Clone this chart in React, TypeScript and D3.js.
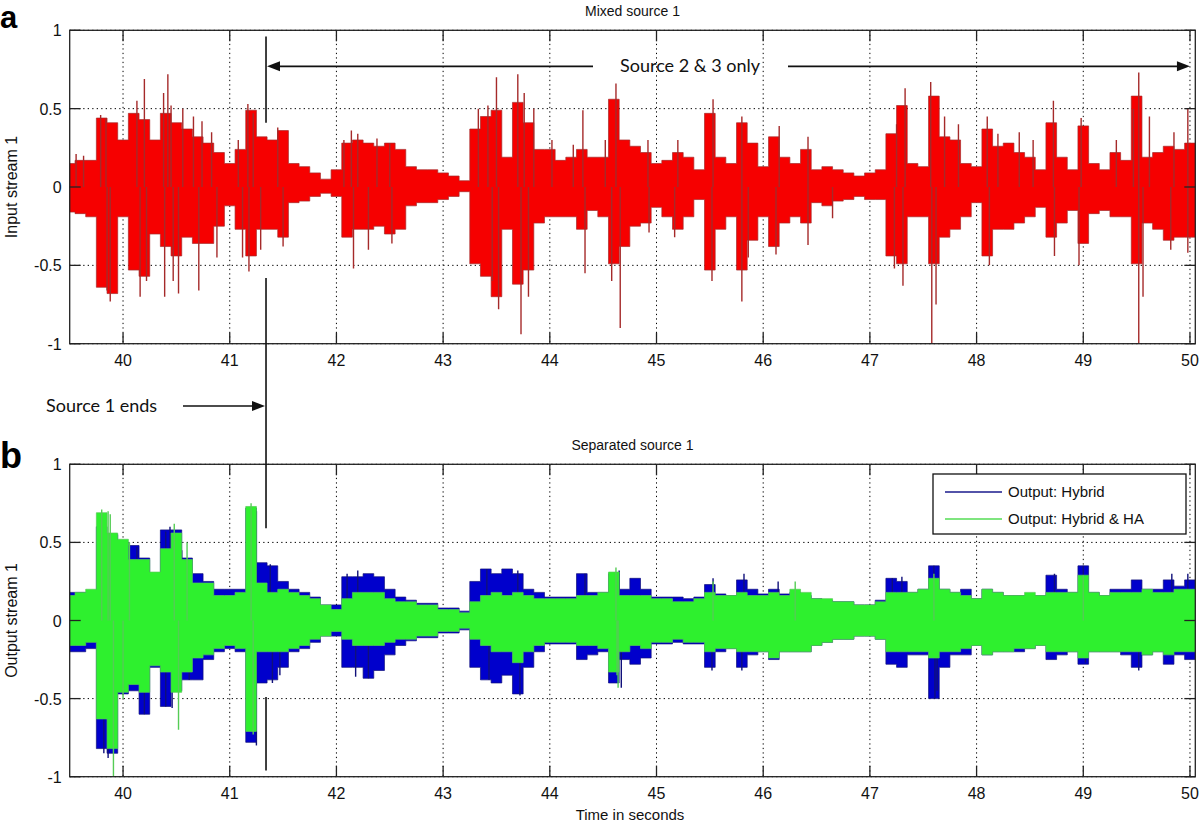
import { useEffect, useRef } from 'react'
import * as d3 from 'd3'

// envelope samples every 0.1 s starting at 39.5 s
const SAMPLE_START = 39.5
const SAMPLE_STEP = 0.1

const X_TICKS = [40, 41, 42, 43, 44, 45, 46, 47, 48, 49, 50]
const Y_TICKS = [-1, -0.5, 0, 0.5, 1]
const Y_TICK_LABELS = ['-1', '-0.5', '0', '0.5', '1']

// panel a: mixed source (red)
const RED_UP = [
  0.15, 0.17, 0.17, 0.44, 0.41, 0.30, 0.47, 0.43, 0.30, 0.47, 0.41, 0.37, 0.32, 0.28, 0.22, 0.15,
  0.24, 0.49, 0.32, 0.30, 0.36, 0.15, 0.13, 0.09, 0.05, 0.11, 0.28, 0.30, 0.28, 0.26, 0.28, 0.24,
  0.13, 0.11, 0.11, 0.09, 0.07, 0.04, 0.37, 0.45, 0.49, 0.19, 0.54, 0.41, 0.24, 0.24, 0.17, 0.19,
  0.24, 0.19, 0.19, 0.56, 0.30, 0.26, 0.22, 0.15, 0.17, 0.22, 0.19, 0.11, 0.47, 0.19, 0.15, 0.41,
  0.28, 0.13, 0.32, 0.19, 0.15, 0.24, 0.11, 0.13, 0.11, 0.09, 0.07, 0.09, 0.11, 0.34, 0.52, 0.15,
  0.13, 0.58, 0.32, 0.30, 0.15, 0.13, 0.37, 0.26, 0.28, 0.22, 0.19, 0.11, 0.41, 0.19, 0.11, 0.39,
  0.15, 0.11, 0.22, 0.17, 0.58, 0.19, 0.22, 0.26, 0.24, 0.28, 0.26,
]
const RED_LO = [
  -0.16, -0.17, -0.19, -0.64, -0.68, -0.19, -0.53, -0.57, -0.30, -0.38, -0.44, -0.32, -0.36, -0.36, -0.25, -0.12,
  -0.27, -0.44, -0.27, -0.27, -0.32, -0.10, -0.09, -0.06, -0.04, -0.06, -0.32, -0.27, -0.27, -0.25, -0.30, -0.27,
  -0.12, -0.10, -0.10, -0.08, -0.06, -0.03, -0.49, -0.57, -0.70, -0.27, -0.62, -0.53, -0.23, -0.19, -0.19, -0.19,
  -0.27, -0.15, -0.19, -0.49, -0.38, -0.25, -0.23, -0.13, -0.19, -0.27, -0.19, -0.08, -0.53, -0.27, -0.19, -0.53,
  -0.34, -0.19, -0.38, -0.23, -0.19, -0.23, -0.10, -0.12, -0.09, -0.08, -0.06, -0.08, -0.08, -0.44, -0.49, -0.19,
  -0.19, -0.49, -0.32, -0.27, -0.19, -0.10, -0.44, -0.27, -0.27, -0.23, -0.19, -0.13, -0.32, -0.23, -0.15, -0.36,
  -0.17, -0.15, -0.19, -0.19, -0.49, -0.23, -0.27, -0.34, -0.32, -0.32, -0.32,
]
const RED_SPIKES = [
  [39.56, 0.21], [39.63, 0.2], [39.79, 0.46], [39.84, 0.44], [39.88, -0.73], [39.85, -0.66], [40.13, 0.55],
  [40.2, 0.69], [40.16, -0.7], [40.22, -0.6], [40.38, 0.6], [40.42, 0.72], [40.45, 0.52], [40.39, -0.7],
  [40.47, -0.6], [40.52, -0.68], [40.56, 0.5], [40.66, 0.45], [40.71, -0.66], [40.74, 0.42], [40.83, 0.35],
  [40.88, -0.45], [41.08, 0.3], [41.17, 0.53], [41.22, 0.47], [41.18, -0.54], [41.12, -0.45], [41.29, -0.4],
  [41.45, 0.38], [41.5, -0.38], [42.07, 0.3], [42.14, 0.36], [42.16, -0.52], [42.2, 0.34], [42.3, -0.4],
  [42.38, 0.31], [42.5, 0.28], [42.52, -0.36], [43.33, 0.5], [43.42, 0.52], [43.5, 0.7], [43.52, -0.78],
  [43.46, -0.6], [43.7, 0.72], [43.73, -0.94], [43.76, 0.6], [43.85, 0.5], [43.8, -0.7], [44.02, 0.3],
  [44.22, 0.27], [44.31, 0.49], [44.33, -0.55], [44.52, 0.3], [44.62, 0.66], [44.66, -0.9], [44.58, -0.6],
  [44.92, 0.3], [44.93, -0.29], [45.2, 0.3], [45.17, -0.32], [45.53, 0.56], [45.52, -0.6], [45.8, 0.45],
  [45.8, -0.73], [45.86, -0.45], [46.15, 0.39], [46.12, -0.43], [46.42, 0.32], [46.42, -0.37], [46.65, -0.2],
  [47.25, 0.4], [47.23, -0.52], [47.33, 0.63], [47.31, -0.63], [47.57, 0.67], [47.58, -1.0], [47.62, -0.75],
  [47.7, 0.45], [47.83, 0.4], [48.1, 0.45], [48.12, -0.5], [48.2, 0.34], [48.4, 0.35], [48.53, 0.3],
  [48.72, 0.55], [48.73, -0.44], [48.98, 0.44], [48.96, -0.5], [49.31, 0.3], [49.47, 0.5], [49.52, 0.73],
  [49.52, -1.0], [49.56, -0.7], [49.62, 0.45], [49.82, -0.4], [49.85, 0.35], [49.98, 0.5], [49.98, -0.42],
]

// panel b: separated source, Hybrid (blue)
const BLUE_UP = [
  0.18, 0.18, 0.18, 0.6, 0.55, 0.5, 0.48, 0.4, 0.3, 0.58, 0.58, 0.4, 0.3, 0.25, 0.2, 0.2,
  0.2, 0.72, 0.37, 0.35, 0.25, 0.2, 0.18, 0.15, 0.1, 0.1, 0.28, 0.28, 0.3, 0.28, 0.2, 0.15,
  0.13, 0.11, 0.11, 0.08, 0.08, 0.06, 0.25, 0.33, 0.3, 0.33, 0.3, 0.2, 0.18, 0.15, 0.15, 0.15,
  0.3, 0.18, 0.18, 0.3, 0.2, 0.27, 0.2, 0.15, 0.15, 0.15, 0.14, 0.15, 0.23, 0.17, 0.16, 0.26,
  0.2, 0.17, 0.2, 0.17, 0.18, 0.16, 0.14, 0.13, 0.12, 0.12, 0.1, 0.1, 0.13, 0.27, 0.25, 0.18,
  0.2, 0.35, 0.2, 0.18, 0.2, 0.14, 0.2, 0.18, 0.16, 0.16, 0.16, 0.16, 0.29, 0.2, 0.18, 0.35,
  0.18, 0.16, 0.2, 0.2, 0.26, 0.2, 0.2, 0.26, 0.22, 0.26, 0.26,
]
const BLUE_LO = [
  -0.2, -0.2, -0.18, -0.82, -0.85, -0.47, -0.45, -0.6, -0.3, -0.55, -0.45, -0.38, -0.38, -0.25, -0.2, -0.18,
  -0.2, -0.78, -0.4, -0.38, -0.3, -0.2, -0.18, -0.14, -0.1, -0.1, -0.3, -0.3, -0.37, -0.32, -0.22, -0.16,
  -0.13, -0.11, -0.11, -0.08, -0.08, -0.06, -0.3, -0.38, -0.4, -0.35, -0.47, -0.3, -0.2, -0.15, -0.15, -0.15,
  -0.25, -0.22, -0.2, -0.4, -0.25, -0.28, -0.24, -0.15, -0.15, -0.14, -0.15, -0.15, -0.3, -0.2, -0.18, -0.3,
  -0.22, -0.2, -0.25, -0.2, -0.2, -0.2, -0.16, -0.14, -0.12, -0.12, -0.1, -0.1, -0.12, -0.28, -0.3, -0.22,
  -0.22, -0.5, -0.3, -0.22, -0.22, -0.16, -0.22, -0.2, -0.2, -0.2, -0.18, -0.16, -0.25, -0.22, -0.2, -0.28,
  -0.2, -0.2, -0.2, -0.22, -0.3, -0.22, -0.2, -0.28, -0.22, -0.25, -0.25,
]
const BLUE_SPIKES = [
  [39.82, -0.85], [39.86, -0.88], [40.13, 0.47], [40.2, -0.6], [40.4, 0.57], [40.44, 0.6], [40.4, -0.55],
  [40.46, -0.56], [40.55, 0.45], [40.62, -0.38], [41.25, -0.8], [41.25, 0.7], [41.38, 0.36], [41.4, -0.4],
  [41.47, -0.35], [42.1, 0.3], [42.2, 0.32], [42.3, -0.37], [42.18, -0.36], [43.41, 0.33], [43.43, -0.38],
  [43.72, -0.48], [43.7, 0.32], [44.33, 0.3], [44.65, 0.32], [44.67, -0.43], [45.53, 0.27], [45.52, -0.32],
  [45.82, 0.3], [45.8, -0.32], [46.14, 0.25], [47.21, 0.27], [47.3, 0.28], [47.6, 0.35], [47.61, -0.5],
  [47.63, -0.45], [48.73, 0.3], [49.0, 0.35], [49.02, -0.27], [49.52, -0.32], [49.83, 0.3], [49.98, 0.3],
]

// panel b: separated source, Hybrid & HA (green)
const GREEN_UP = [
  0.16, 0.18, 0.2, 0.69, 0.56, 0.52, 0.39, 0.39, 0.31, 0.46, 0.56, 0.39, 0.24, 0.24, 0.16, 0.16,
  0.18, 0.73, 0.24, 0.18, 0.2, 0.18, 0.16, 0.14, 0.1, 0.07, 0.14, 0.18, 0.18, 0.18, 0.14, 0.12,
  0.12, 0.1, 0.1, 0.07, 0.07, 0.05, 0.12, 0.16, 0.18, 0.16, 0.18, 0.16, 0.14, 0.14, 0.14, 0.14,
  0.16, 0.16, 0.18, 0.31, 0.16, 0.16, 0.16, 0.14, 0.14, 0.12, 0.12, 0.14, 0.18, 0.16, 0.16, 0.18,
  0.16, 0.16, 0.18, 0.16, 0.2, 0.18, 0.14, 0.14, 0.12, 0.12, 0.1, 0.1, 0.12, 0.18, 0.18, 0.18,
  0.2, 0.27, 0.2, 0.18, 0.16, 0.14, 0.2, 0.18, 0.16, 0.16, 0.18, 0.16, 0.18, 0.18, 0.18, 0.29,
  0.18, 0.16, 0.18, 0.18, 0.18, 0.2, 0.18, 0.18, 0.2, 0.2, 0.2,
]
const GREEN_LO = [
  -0.16, -0.16, -0.14, -0.63, -0.82, -0.46, -0.41, -0.46, -0.29, -0.33, -0.46, -0.33, -0.24, -0.22, -0.18, -0.16,
  -0.18, -0.71, -0.2, -0.2, -0.2, -0.18, -0.16, -0.12, -0.1, -0.07, -0.12, -0.16, -0.16, -0.16, -0.14, -0.12,
  -0.12, -0.1, -0.1, -0.07, -0.07, -0.05, -0.12, -0.16, -0.2, -0.2, -0.27, -0.2, -0.16, -0.14, -0.14, -0.14,
  -0.16, -0.16, -0.18, -0.33, -0.2, -0.16, -0.18, -0.14, -0.14, -0.12, -0.14, -0.14, -0.2, -0.18, -0.18, -0.2,
  -0.2, -0.2, -0.24, -0.2, -0.2, -0.2, -0.16, -0.14, -0.12, -0.12, -0.1, -0.1, -0.12, -0.2, -0.2, -0.2,
  -0.2, -0.24, -0.2, -0.2, -0.18, -0.16, -0.22, -0.2, -0.2, -0.18, -0.18, -0.16, -0.2, -0.2, -0.2, -0.24,
  -0.2, -0.2, -0.2, -0.2, -0.2, -0.22, -0.2, -0.22, -0.2, -0.2, -0.2,
]
const GREEN_SPIKES = [
  [39.8, 0.71], [39.86, 0.7], [39.91, -1.0], [39.88, 0.68], [40.0, -0.5], [40.06, 0.5], [40.48, 0.62],
  [40.52, -0.7], [40.6, 0.5], [41.2, 0.75], [41.22, -0.73], [44.62, 0.34], [44.64, -0.43], [44.63, -0.35],
  [45.53, 0.25], [46.3, 0.25], [47.6, 0.3], [49.0, 0.29],
]

const SOURCE1_END = 41.34
const LEGEND = [
  { label: 'Output: Hybrid', color: '#1a1a8c' },
  { label: 'Output: Hybrid & HA', color: '#55dd55' },
]

const AXIS_FONT = 'Liberation Sans, Arial, sans-serif'
const NOTE_FONT = 'Lato, Open Sans, sans-serif'

function envelope(up, lo) {
  return up.map((u, i) => ({ t: SAMPLE_START + i * SAMPLE_STEP, u, l: lo[i] }))
}

export default function App() {
  const svgRef = useRef(null)

  useEffect(() => {
    const svg = d3.select(svgRef.current)
    svg.selectAll('*').remove()

    const x = d3.scaleLinear().domain([39.5, 50.05]).range([69.7, 1195.3])
    const yA = d3.scaleLinear().domain([-1, 1]).range([343.7, 30.3])
    const yB = d3.scaleLinear().domain([-1, 1]).range([776.7, 464.3])

    const defs = svg.append('defs')

    const drawPanel = (y, id, title, ylabel) => {
      const [x0, x1] = x.range()
      const [b, t] = y.range()
      defs.append('clipPath').attr('id', id)
        .append('rect').attr('x', x0).attr('y', t).attr('width', x1 - x0).attr('height', b - t)

      const g = svg.append('g')
      // grid
      g.selectAll('.vg').data(X_TICKS).enter().append('line')
        .attr('x1', d => x(d)).attr('x2', d => x(d)).attr('y1', t).attr('y2', b)
        .attr('stroke', '#000').attr('stroke-width', 1).attr('stroke-dasharray', '1.3,3.2')
      g.selectAll('.hg').data(Y_TICKS).enter().append('line')
        .attr('x1', x0).attr('x2', x1).attr('y1', d => y(d)).attr('y2', d => y(d))
        .attr('stroke', '#000').attr('stroke-width', 1).attr('stroke-dasharray', '1.3,3.2')

      // title & labels
      svg.append('text').attr('x', (x0 + x1) / 2).attr('y', t - 14).attr('text-anchor', 'middle')
        .attr('font-family', AXIS_FONT).attr('font-size', 14).attr('fill', '#111').text(title)
      svg.append('text').attr('transform', `translate(17,${y(0)}) rotate(-90)`).attr('text-anchor', 'middle')
        .attr('font-family', AXIS_FONT).attr('font-size', 16).attr('fill', '#111').text(ylabel)

      X_TICKS.forEach(d => {
        svg.append('text').attr('x', x(d)).attr('y', b + 22).attr('text-anchor', 'middle')
          .attr('font-family', AXIS_FONT).attr('font-size', 16).attr('fill', '#111').text(d)
      })
      Y_TICKS.forEach((d, i) => {
        svg.append('text').attr('x', x0 - 8).attr('y', y(d) + 6).attr('text-anchor', 'end')
          .attr('font-family', AXIS_FONT).attr('font-size', 16).attr('fill', '#111').text(Y_TICK_LABELS[i])
      })
      return { x0, x1, t, b }
    }

    const frame = ({ x0, x1, t, b }, y) => {
      const g = svg.append('g')
      g.append('rect').attr('x', x0).attr('y', t).attr('width', x1 - x0).attr('height', b - t)
        .attr('fill', 'none').attr('stroke', '#222').attr('stroke-width', 1.3)
      X_TICKS.forEach(d => {
        g.append('line').attr('x1', x(d)).attr('x2', x(d)).attr('y1', b).attr('y2', b - 11)
          .attr('stroke', '#222').attr('stroke-width', 1.3)
        g.append('line').attr('x1', x(d)).attr('x2', x(d)).attr('y1', t).attr('y2', t + 11)
          .attr('stroke', '#222').attr('stroke-width', 1.3)
      })
      Y_TICKS.forEach(d => {
        g.append('line').attr('x1', x0).attr('x2', x0 + 11).attr('y1', y(d)).attr('y2', y(d))
          .attr('stroke', '#222').attr('stroke-width', 1.3)
        g.append('line').attr('x1', x1).attr('x2', x1 - 11).attr('y1', y(d)).attr('y2', y(d))
          .attr('stroke', '#222').attr('stroke-width', 1.3)
      })
    }

    const wave = (y, clipId, up, lo, spikes, fill, edge) => {
      const g = svg.append('g').attr('clip-path', `url(#${clipId})`)
      const area = d3.area()
        .x(d => x(d.t)).y0(d => y(d.l)).y1(d => y(d.u))
        .curve(d3.curveStep)
      g.append('path').datum(envelope(up, lo)).attr('d', area)
        .attr('fill', fill).attr('stroke', edge).attr('stroke-width', 0.7)
      g.selectAll('.spike').data(spikes).enter().append('line')
        .attr('x1', d => x(d[0])).attr('x2', d => x(d[0]))
        .attr('y1', y(0)).attr('y2', d => y(d[1]))
        .attr('stroke', edge).attr('stroke-width', 1.4)
    }

    // panel a
    const pa = drawPanel(yA, 'clipA', 'Mixed source 1', 'Input stream 1')
    wave(yA, 'clipA', RED_UP, RED_LO, RED_SPIKES, '#f60000', '#a52a2a')
    frame(pa, yA)

    // panel b
    const pb = drawPanel(yB, 'clipB', 'Separated source 1', 'Output stream 1')
    wave(yB, 'clipB', BLUE_UP, BLUE_LO, BLUE_SPIKES, '#0000cc', '#10107a')
    wave(yB, 'clipB', GREEN_UP, GREEN_LO, GREEN_SPIKES, '#2ef02e', '#55cc55')
    frame(pb, yB)

    // panel letters
    svg.append('text').attr('x', 0).attr('y', 28).attr('font-family', AXIS_FONT)
      .attr('font-size', 31).attr('font-weight', 'bold').text('a')
    svg.append('text').attr('x', 0).attr('y', 468).attr('font-family', AXIS_FONT)
      .attr('font-size', 36).attr('font-weight', 'bold').text('b')

    // annotations
    const xe = x(SOURCE1_END)
    const note = svg.append('g').attr('stroke', '#111').attr('stroke-width', 1.6)
    note.append('line').attr('x1', xe).attr('x2', xe).attr('y1', yA(0.96)).attr('y2', yA(0.41))
    note.append('line').attr('x1', xe).attr('x2', xe).attr('y1', yA(-0.58)).attr('y2', yB(0.59))
    note.append('line').attr('x1', xe).attr('x2', xe).attr('y1', yB(-0.49)).attr('y2', yB(-0.96))

    const ay = yA(0.77)
    note.append('line').attr('x1', xe + 12).attr('x2', 593).attr('y1', ay).attr('y2', ay)
    note.append('line').attr('x1', 788).attr('x2', x(50) - 12).attr('y1', ay).attr('y2', ay)
    svg.append('path').attr('d', `M${xe + 1},${ay} l13,-5 l0,10 Z`).attr('fill', '#111')
    svg.append('path').attr('d', `M${x(50)},${ay} l-13,-5 l0,10 Z`).attr('fill', '#111')
    svg.append('text').attr('x', 690).attr('y', ay + 6).attr('text-anchor', 'middle')
      .attr('font-family', NOTE_FONT).attr('font-size', 18).attr('fill', '#111').text('Source 2 & 3 only')

    const ey = 406
    note.append('line').attr('x1', 183).attr('x2', xe - 12).attr('y1', ey).attr('y2', ey)
    svg.append('path').attr('d', `M${xe - 1},${ey} l-13,-5 l0,10 Z`).attr('fill', '#111')
    svg.append('text').attr('x', 46).attr('y', ey + 6).attr('font-family', NOTE_FONT)
      .attr('font-size', 18).attr('fill', '#111').text('Source 1 ends')

    // legend
    const lg = svg.append('g')
    lg.append('rect').attr('x', 933).attr('y', 474).attr('width', 253).attr('height', 60)
      .attr('fill', '#fff').attr('stroke', '#111').attr('stroke-width', 1.3)
    LEGEND.forEach((d, i) => {
      const ly = 492 + i * 27
      lg.append('line').attr('x1', 945).attr('x2', 1002).attr('y1', ly).attr('y2', ly)
        .attr('stroke', d.color).attr('stroke-width', 1.5)
      lg.append('text').attr('x', 1008).attr('y', ly + 5).attr('font-family', AXIS_FONT)
        .attr('font-size', 15).attr('fill', '#111').text(d.label)
    })

    // x label
    svg.append('text').attr('x', 630).attr('y', 820).attr('text-anchor', 'middle')
      .attr('font-family', AXIS_FONT).attr('font-size', 15).attr('fill', '#111').text('Time in seconds')
  }, [])

  return (
    <svg
      ref={svgRef}
      width={1200}
      height={825}
      style={{ position: 'absolute', left: 0, top: 0, background: '#fff' }}
    />
  )
}
